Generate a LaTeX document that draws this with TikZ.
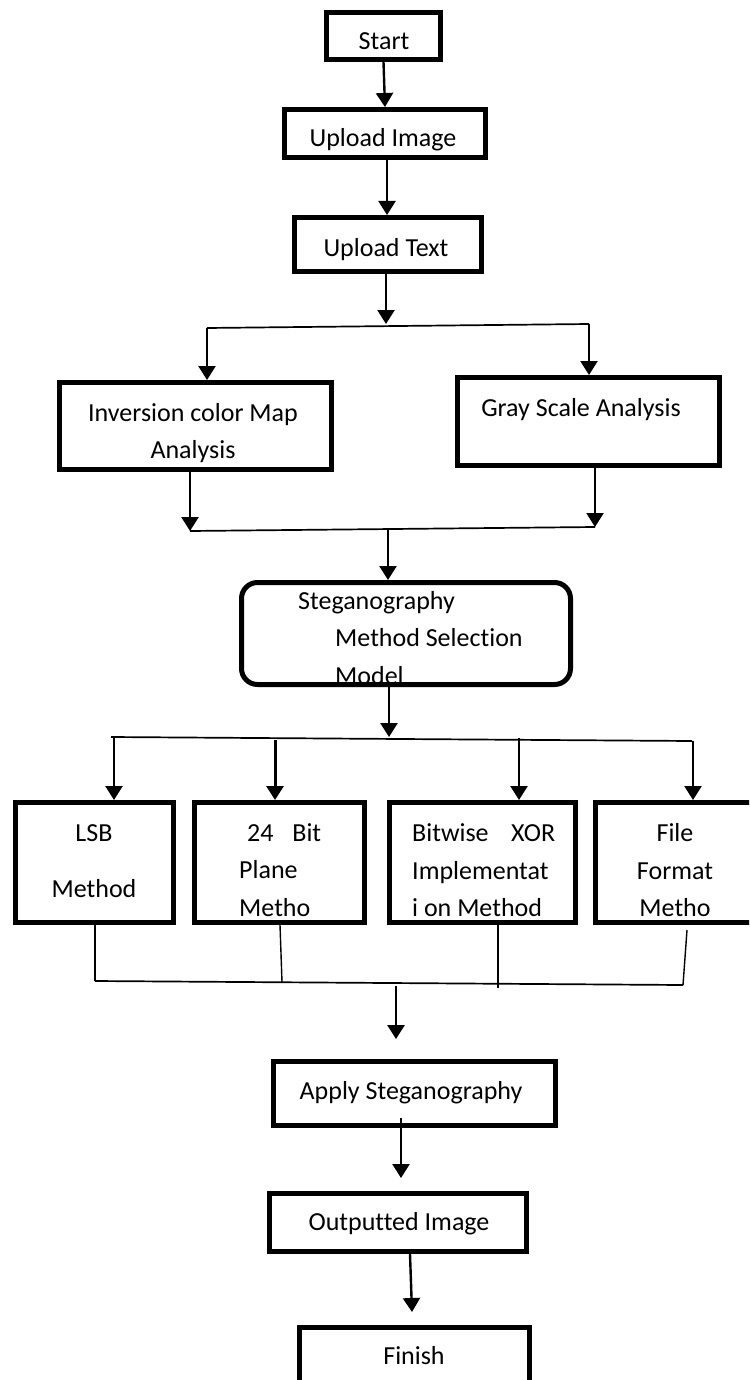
\documentclass[tikz,border=0pt]{standalone}
\usepackage{fontspec}
\setmainfont{Carlito}[Ligatures=NoCommon]
\usetikzlibrary{arrows.meta}
\begin{document}
\begin{tikzpicture}[x=1pt,y=-1pt,
  box/.style={draw, line width=5pt, inner sep=0pt, fill=white},
  rbox/.style={box, rounded corners=16pt},
  lbl/.style={font=\fontsize{26}{31}\selectfont, inner sep=0pt, anchor=base},
  lblw/.style={lbl, anchor=base west},
  arr/.style={line width=2.4pt, -{Triangle[length=14pt,width=17pt]}},
  bus/.style={line width=1.7pt},
  link/.style={line width=1.4pt}]
\useasboundingbox (0,0) rectangle (749,1380);
\clip (0,0) rectangle (749,1380);

% boxes
\node[box, minimum width=114pt, minimum height=47pt] (start) at (383.5,36) {};
\node[box, minimum width=201pt, minimum height=48pt] (upimg) at (385,133.5) {};
\node[box, minimum width=187pt, minimum height=54pt] (uptxt) at (388,244.5) {};
\node[box, minimum width=272pt, minimum height=87pt] (inv) at (195.5,426) {};
\node[box, minimum width=262pt, minimum height=88pt] (gray) at (588.5,421.5) {};
\node[rbox, minimum width=329pt, minimum height=102pt] (steg) at (406,633.5) {};
\node[box, minimum width=158pt, minimum height=120pt] (lsb) at (94.5,862.5) {};
\node[box, minimum width=170pt, minimum height=120pt] (bit) at (279.5,862.5) {};
\node[box, minimum width=186pt, minimum height=120pt] (xor) at (482.5,862.5) {};
\node[box, minimum width=164pt, minimum height=120pt] (ffm) at (677.5,862.5) {};
\node[box, minimum width=282pt, minimum height=64pt] (apply) at (414.5,1093.5) {};
\node[box, minimum width=257pt, minimum height=58pt] (outimg) at (398,1222.5) {};
\node[box, minimum width=230pt, minimum height=80pt] (finish) at (414.5,1367) {};

% labels
\node[lbl] (tstart) at (384,50) {Start};
\node[lbl] (tupimg) at (383,147) {Upload Image};
\node[lbl] (tuptxt) at (386,256) {Upload Text};
\node[lbl] (tinv1) at (193,421) {Inversion color Map};
\node[lbl] (tinv2) at (193,458) {Analysis};
\node[lbl] (tgray) at (581,416) {Gray Scale Analysis};
\node[lblw] (tsteg1) at (298,609) {Steganography};
\node[lblw] (tsteg2) at (335,646) {Method Selection};
\node[lblw] (tsteg3) at (335,684) {Model};
\node[lbl] (tlsb1) at (94,841) {LSB};
\node[lbl] (tlsb2) at (94,897) {Method};
\node[lblw] (tbit1) at (247,841) {\makebox[74pt][l]{24\hfill Bit}};
\node[lblw] (tbit2) at (239,878) {Plane};
\node[lblw] (tbit3) at (239,916) {Metho};
\node[lblw] (txor1) at (412,841) {\makebox[143pt][l]{Bitwise\hfill XOR}};
\node[lblw] (txor2) at (412,879) {Implementat};
\node[lblw] (txor3) at (412,916) {i on Method};
\node[lbl] (tffm1) at (675,841) {File};
\node[lbl] (tffm2) at (675,879) {Format};
\node[lbl] (tffm3) at (675,916) {Metho};
\node[lbl] (tapply) at (411,1099) {Apply Steganography};
\node[lbl] (toutimg) at (399,1230) {Outputted Image};
\node[lbl] (tfinish) at (414,1364) {Finish};

% junction points
\coordinate (s1) at (386,324);
\coordinate (b1l) at (207,328);
\coordinate (b1r) at (589,324);
\coordinate (m1l) at (190,531);
\coordinate (m1r) at (595,527);
\coordinate (m1c) at (388,529);
\coordinate (s2) at (389,737);
\coordinate (b2l) at (111,737);
\coordinate (b2r) at (692,741);
\coordinate (d1) at (114,737);
\coordinate (d2) at (275,740);
\coordinate (d3) at (519,738);
\coordinate (d4) at (693,741);
\coordinate (j1) at (95,981);
\coordinate (j2) at (282,982);
\coordinate (j3) at (498,988);
\coordinate (j4) at (683,985);
\coordinate (f4) at (687,930);
\coordinate (m2c) at (396,986);
\coordinate (a1) at (396,1039);
\coordinate (a2) at (401,1118);
\coordinate (a3) at (401,1178);
\coordinate (a4) at (412,1312);

% connectors
\draw[arr] (start.south) -- (upimg.north);
\draw[arr] (upimg.south -| 387,0) -- (uptxt.north -| 387,0);
\draw[arr] (s1 |- uptxt.south) -- (s1);
\draw[bus] (b1l) -- (b1r);
\draw[arr] (b1l) -- (b1l |- inv.north);
\draw[arr] (b1r) -- (b1r |- gray.north);
\draw[arr] (m1l |- inv.south) -- (m1l);
\draw[arr] (m1r |- gray.south) -- (m1r);
\draw[bus] (m1l) -- (m1r);
\draw[arr] (m1c) -- (m1c |- steg.north);
\draw[arr] (s2 |- steg.south) -- (s2);
\draw[bus] (b2l) -- (b2r);
\draw[arr] (d1) -- (d1 |- lsb.north);
\draw[arr, line width=3pt] (d2) -- (d2 |- bit.north);
\draw[arr] (d3) -- (d3 |- xor.north);
\draw[arr] (d4) -- (d4 |- ffm.north);
\draw[link] (j1 |- lsb.south) -- (j1);
\draw[link] (280,925) -- (j2);
\draw[link] (j3 |- xor.south) -- (j3);
\draw[link] (f4) -- (j4);
\draw[bus] (j1) -- (j4);
\draw[arr, line width=2.8pt] (m2c) -- (a1);
\draw[arr] (a2) -- (a3);
\draw[arr] (outimg.south -| 410,0) -- (a4);
\end{tikzpicture}
\end{document}
